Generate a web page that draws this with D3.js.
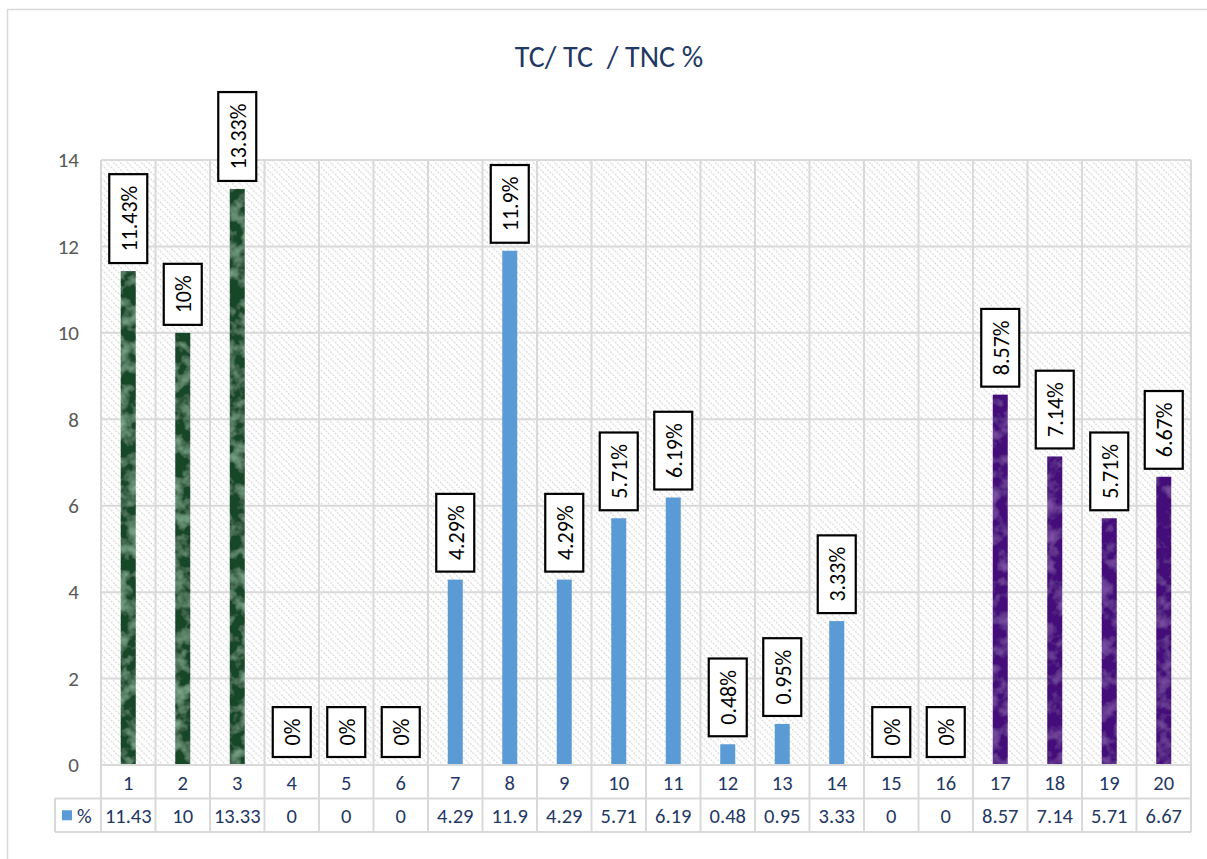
<!DOCTYPE html>
<html>
<head>
<meta charset="utf-8">
<script src="https://cdn.jsdelivr.net/npm/d3@7/dist/d3.min.js"></script>
<style>
  html, body { margin: 0; padding: 0; background: #fff; }
  svg { display: block; font-family: Carlito, Calibri, Lato, "Open Sans", sans-serif; }
</style>
</head>
<body>
<svg id="chart" width="1207" height="859"></svg>
<script>
// Chart data
const categories = ["1","2","3","4","5","6","7","8","9","10","11","12","13","14","15","16","17","18","19","20"];
const values = [11.43, 10, 13.33, 0, 0, 0, 4.29, 11.9, 4.29, 5.71, 6.19, 0.48, 0.95, 3.33, 0, 0, 8.57, 7.14, 5.71, 6.67];
const yTicks = [0, 2, 4, 6, 8, 10, 12, 14];
const titleText = "TC/ TC  / TNC %";
const seriesName = "%";

const svg = d3.select("#chart");
const W = 1207, H = 859;
const plot = { left: 101, right: 1191, top: 160, bottom: 765 };
const rowH = 33.5;

const x = d3.scaleBand().domain(categories).range([plot.left, plot.right]).padding(0);
const y = d3.scaleLinear().domain([0, 14]).range([plot.bottom, plot.top]);

const navy = "#1f3864";
const grid = "#d9d9d9";
const blue = "#5b9bd5";

// Base colour per column group: marbled green, flat blue, marbled purple
const baseFor = i => i < 3 ? "#174628" : i >= 16 ? "#45117a" : blue;
const filterFor = i => i < 3 ? "url(#m-green)" : i >= 16 ? "url(#m-purple)" : null;

const defs = svg.append("defs");

// Diagonal hatch for plot background
const hatch = defs.append("pattern")
  .attr("id", "hatch").attr("patternUnits", "userSpaceOnUse")
  .attr("width", 7).attr("height", 7);
hatch.append("rect").attr("width", 7).attr("height", 7).attr("fill", "#fff");
hatch.append("path").attr("d", "M-1,-1 L8,8 M-1,6 L1,8 M6,-1 L8,1")
  .attr("stroke", "#dedede").attr("stroke-width", 1.3).attr("stroke-dasharray", "2,1.2");

// Marble textures
function marble(id, light, freq, seed, a, b) {
  const f = defs.append("filter").attr("id", id)
    .attr("x", 0).attr("y", 0).attr("width", 1).attr("height", 1);
  f.append("feTurbulence").attr("type", "fractalNoise")
    .attr("baseFrequency", freq).attr("numOctaves", 3).attr("seed", seed).attr("result", "noise");
  f.append("feColorMatrix").attr("in", "noise").attr("type", "matrix")
    .attr("values", `0 0 0 0 ${light[0]}  0 0 0 0 ${light[1]}  0 0 0 0 ${light[2]}  ${a} 0 0 0 ${b}`)
    .attr("result", "spots");
  f.append("feComposite").attr("in", "spots").attr("in2", "SourceGraphic").attr("operator", "atop");
}
marble("m-green", [0.26, 0.50, 0.33], "0.07", 7, 1.8, -0.75);
marble("m-purple", [0.33, 0.14, 0.52], "0.07", 11, 1.4, -0.65);

// Outer chart frame
svg.append("rect").attr("x", 7.5).attr("y", 9.5).attr("width", W).attr("height", H)
  .attr("fill", "#fff").attr("stroke", grid).attr("stroke-width", 1.5);

// Title
svg.append("text")
  .attr("x", 609).attr("y", 67)
  .attr("text-anchor", "middle")
  .attr("fill", navy).attr("font-size", 30)
  .style("white-space", "pre")
  .text(titleText);

// Plot background
svg.append("rect")
  .attr("x", plot.left).attr("y", plot.top)
  .attr("width", plot.right - plot.left).attr("height", plot.bottom - plot.top)
  .attr("fill", "url(#hatch)");

// Horizontal gridlines
svg.append("g").selectAll("line").data(yTicks).join("line")
  .attr("x1", plot.left).attr("x2", plot.right)
  .attr("y1", d => y(d)).attr("y2", d => y(d))
  .attr("stroke", grid).attr("stroke-width", 2);

// Vertical gridlines (through plot and table)
const bounds = categories.map(c => x(c)).concat([plot.right]);
svg.append("g").selectAll("line").data(bounds).join("line")
  .attr("x1", d => d).attr("x2", d => d)
  .attr("y1", plot.top).attr("y2", plot.bottom + 2 * rowH)
  .attr("stroke", grid).attr("stroke-width", 2);

// Y axis labels
const yAxis = d3.axisLeft(y).tickValues(yTicks).tickSize(0).tickPadding(0).tickFormat(d3.format("d"));
const yg = svg.append("g").attr("transform", `translate(79,0)`).call(yAxis);
yg.select(".domain").remove();
yg.selectAll("text").attr("fill", "#595959").attr("font-size", 21)
  .style("font-family", "Carlito, Calibri, Lato, 'Open Sans', sans-serif");

// Bars
const barW = 15;
svg.append("g").selectAll("rect")
  .data(values.map((v, i) => ({ v, i })).filter(d => d.v > 0))
  .join("rect")
  .attr("x", d => x(categories[d.i]) + x.bandwidth() / 2 - barW / 2)
  .attr("y", d => y(d.v))
  .attr("width", barW)
  .attr("height", d => y(0) - y(d.v))
  .attr("fill", d => baseFor(d.i))
  .attr("filter", d => filterFor(d.i));

// Boxed, rotated value labels
const labels = svg.append("g");
values.forEach((v, i) => {
  const cx = x(categories[i]) + x.bandwidth() / 2;
  const g = labels.append("g");
  const t = g.append("text")
    .attr("font-size", 22).attr("fill", "#000")
    .attr("text-anchor", "start").attr("dominant-baseline", "central")
    .text(v + "%");
  const len = t.node().getComputedTextLength();
  const pad = 11.5, gap = 8, boxW = 38;
  const boxH = len + 2 * pad;
  const bottom = y(v) - gap;
  g.insert("rect", "text")
    .attr("x", cx - boxW / 2).attr("y", bottom - boxH)
    .attr("width", boxW).attr("height", boxH)
    .attr("fill", "#fff").attr("stroke", "#000").attr("stroke-width", 2.2);
  t.attr("transform", `translate(${cx + 1},${bottom - pad}) rotate(-90)`);
});

// Data table
const tableTop = plot.bottom;
const tbl = svg.append("g");
[tableTop, tableTop + rowH, tableTop + 2 * rowH].forEach((yy, k) => {
  tbl.append("line")
    .attr("x1", k === 0 ? plot.left : 55).attr("x2", plot.right)
    .attr("y1", yy).attr("y2", yy)
    .attr("stroke", grid).attr("stroke-width", 2);
});
tbl.append("line").attr("x1", 55).attr("x2", 55)
  .attr("y1", tableTop + rowH).attr("y2", tableTop + 2 * rowH)
  .attr("stroke", grid).attr("stroke-width", 2);

tbl.selectAll("text.cat").data(categories).join("text")
  .attr("class", "cat")
  .attr("x", d => x(d) + x.bandwidth() / 2)
  .attr("y", tableTop + rowH / 2 + 1)
  .attr("text-anchor", "middle").attr("dominant-baseline", "central")
  .attr("fill", navy).attr("font-size", 20.5)
  .text(d => d);

tbl.selectAll("text.val").data(values).join("text")
  .attr("class", "val")
  .attr("x", (d, i) => x(categories[i]) + x.bandwidth() / 2)
  .attr("y", tableTop + rowH * 1.5 + 1)
  .attr("text-anchor", "middle").attr("dominant-baseline", "central")
  .attr("fill", navy).attr("font-size", 20.5)
  .text(d => d);

// Legend key inside the table
tbl.append("rect").attr("x", 62).attr("y", tableTop + rowH * 1.5 - 5)
  .attr("width", 10).attr("height", 10).attr("fill", blue);
tbl.append("text").attr("x", 77).attr("y", tableTop + rowH * 1.5 + 1)
  .attr("dominant-baseline", "central")
  .attr("fill", navy).attr("font-size", 20.5)
  .text(seriesName);
</script>
</body>
</html>
